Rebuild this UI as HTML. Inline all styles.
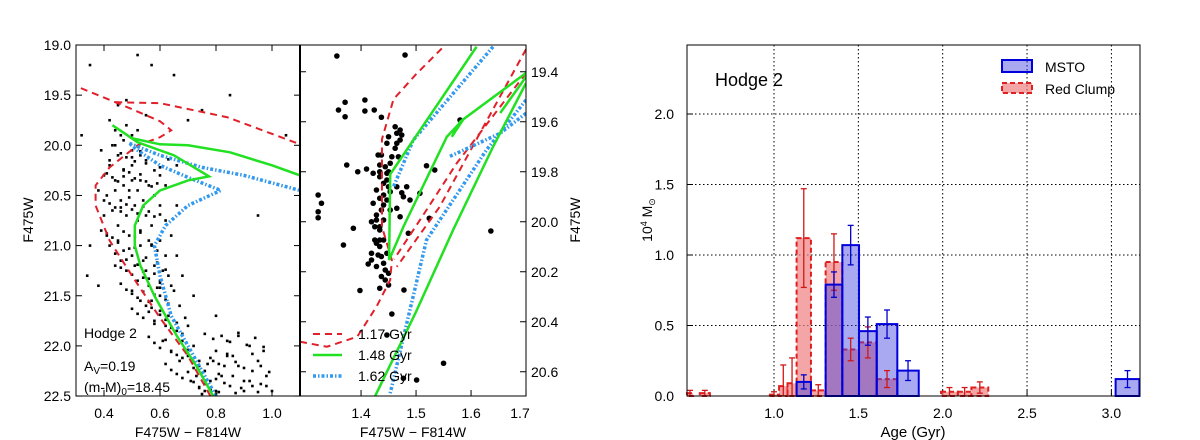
<!DOCTYPE html>
<html><head><meta charset="utf-8">
<style>
body{margin:0;background:#fff;}
svg{display:block;font-family:"Liberation Sans","DejaVu Sans",sans-serif;}
text{fill:#000;}
</style></head>
<body>
<svg id="fig" width="1200" height="440" viewBox="0 0 1200 440" xmlns="http://www.w3.org/2000/svg">
<rect width="1200" height="440" fill="#fff"/>
<g id="cmdL"></g>
<g id="cmdR"></g>
<g id="hist"></g>
</svg>
<script>
// ---------- CMD data ----------
const leftColor=[0.42,0.44,0.46,0.48,0.5,0.52,0.47,0.5,0.53,0.45,0.42,0.4,0.38,0.41,0.44,0.47,0.5,0.55,0.58,0.6,0.62,0.56,0.53,0.49,0.46,0.43,0.4,0.45,0.48,0.51,0.54,0.58,0.6,0.62,0.57,0.53,0.49,0.45,0.42,0.47,0.5,0.53,0.56,0.59,0.62,0.58,0.55,0.51,0.48,0.46,0.52,0.56,0.6,0.63,0.65,0.6,0.57,0.55,0.6,0.63,0.67,0.62,0.66,0.7,0.68,0.72,0.7,0.74,0.76,0.73,0.78,0.8,0.76,0.82,0.85,0.88,0.9,0.86,0.92,0.95,0.98,0.9,0.84,0.8,0.93,1.0,0.97,0.88,0.83,0.79,0.95,0.35,0.32,0.35,0.34,0.38,0.65,0.7,0.75,0.8,0.72,0.68,0.66,0.64,0.66,0.45,0.48,0.55,0.43,0.41,0.39,0.44,0.5,0.53,0.58,0.61,0.64,0.67,0.71,0.74,0.5,0.52,0.55,0.44,0.47,0.52,0.4,0.57,0.61,0.54,0.6,1.05,0.85,0.52,0.57,0.87,0.93,0.96,0.46,0.49,0.51,0.54,0.57,0.59,0.63,0.69,0.72,0.77,0.81,0.84,
0.41,0.43,0.45,0.47,0.49,0.51,0.53,0.55,0.57,0.59,0.42,0.44,0.46,0.48,0.5,0.52,0.54,0.56,0.58,0.6,0.41,0.43,0.45,0.47,0.49,0.51,0.53,0.55,0.57,0.59,0.44,0.46,0.48,0.5,0.52,0.54,0.56,0.58,0.6,0.62,0.46,0.48,0.5,0.52,0.54,0.56,0.58,0.6,0.62,0.64,0.5,0.52,0.54,0.56,0.58,0.6,0.62,0.64,0.66,0.68,0.56,0.58,0.6,0.62,0.64,0.66,0.68,0.7,0.72,0.74,0.62,0.64,0.66,0.68,0.7,0.72,0.74,0.76,0.78,0.8,0.76,0.79,0.82,0.85,0.88,0.91,0.94,0.97,0.78,0.81,0.84,0.87,0.9,0.93,0.96,0.99,0.8,0.83,0.86,0.89,0.92,0.95,0.98,0.75,0.78,0.81,0.46,0.48,0.51,0.53,0.55,0.6,0.63,0.66,0.39,0.42,0.44,0.47,0.5];
const leftMag=[19.75,19.85,19.9,19.8,19.9,19.85,19.95,20.05,20.1,20.1,20.2,20.3,20.45,20.5,20.35,20.25,20.2,20.15,20.25,20.3,20.4,20.4,20.35,20.45,20.55,20.65,20.7,20.8,20.7,20.6,20.55,20.5,20.6,20.75,20.8,20.85,20.9,20.95,21.0,21.05,21.1,21.0,20.95,21.05,21.1,21.2,21.25,21.2,21.25,21.15,21.35,21.4,21.35,21.3,21.45,21.5,21.55,21.6,21.65,21.7,21.6,21.8,21.85,21.8,21.95,22.0,22.1,22.15,22.25,22.3,22.35,22.45,22.45,22.3,22.4,22.2,22.35,22.1,22.0,22.15,22.3,22.45,21.95,22.05,22.4,22.45,22.05,21.9,22.2,22.15,20.7,19.2,19.9,21.0,21.3,21.4,19.3,19.75,19.65,21.7,21.5,21.3,21.1,20.9,20.6,19.6,19.55,19.7,20.0,20.9,20.85,21.2,21.45,21.55,21.75,21.95,22.05,22.15,22.35,22.42,20.35,20.45,20.7,20.45,20.4,20.75,20.55,21.0,21.25,21.15,20.95,19.9,19.5,19.1,19.2,22.47,22.25,22.38,20.62,20.52,21.02,21.32,21.62,21.42,21.58,21.72,22.22,22.18,22.28,22.08,
20.28,20.32,20.36,20.31,20.27,20.33,20.29,20.36,20.41,20.38,20.58,20.62,20.66,20.59,20.64,20.68,20.61,20.66,20.71,20.69,20.88,20.92,20.97,20.86,21.03,20.91,20.87,21.12,20.99,21.17,21.08,21.22,21.14,21.29,21.19,21.26,21.33,21.28,21.37,21.24,21.38,21.44,21.48,21.52,21.46,21.56,21.49,21.42,21.54,21.4,21.63,21.68,21.72,21.66,21.78,21.69,21.74,21.82,21.77,21.88,21.91,21.97,22.02,21.94,22.06,22.09,22.12,22.04,22.16,22.2,22.18,22.24,22.28,22.32,22.26,22.36,22.41,22.38,22.44,22.48,21.88,21.93,21.9,21.96,21.87,21.99,21.92,22.01,22.12,22.18,22.1,22.16,22.22,22.08,22.2,22.26,22.33,22.37,22.3,22.42,22.35,22.46,22.4,22.48,22.44,22.46,20.08,20.12,20.16,20.06,20.18,20.22,20.14,20.2,20.05,20.15,20.0,20.24,20.12];
const rightColor=[1.356,1.480,1.371,1.359,1.371,1.407,1.407,1.424,1.437,1.462,1.471,1.465,1.474,1.450,1.447,1.465,1.462,1.437,1.431,1.456,1.468,1.374,1.410,1.394,1.422,1.434,1.434,1.434,1.447,1.447,1.441,1.450,1.453,1.441,1.428,1.465,1.474,1.483,1.519,1.534,1.322,1.328,1.322,1.322,1.434,1.422,1.441,1.465,1.477,1.489,1.507,1.437,1.428,1.419,1.428,1.441,1.471,1.425,1.434,1.386,1.434,1.428,1.441,1.368,1.419,1.431,1.437,1.447,1.413,1.419,1.428,1.441,1.444,1.450,1.437,1.444,1.450,1.434,1.398,1.478,1.456,1.524,1.486,1.636,1.580,1.550,1.434,1.425,1.453,1.444,1.450,1.471,1.434,1.447,1.453,1.447,1.477,1.501];
const rightMag=[19.337,19.333,19.522,19.553,19.580,19.513,19.557,19.553,19.582,19.620,19.633,19.646,19.653,19.660,19.686,19.686,19.706,19.733,19.733,19.740,19.740,19.773,19.789,19.800,19.806,19.773,19.800,19.820,19.806,19.833,19.846,19.860,19.880,19.893,19.873,19.860,19.884,19.860,19.776,19.793,19.893,19.926,19.960,19.984,19.906,19.926,19.933,19.946,19.900,19.913,19.886,19.953,19.973,20.000,19.993,19.993,19.980,20.020,20.033,20.026,20.073,20.086,20.073,20.093,20.126,20.133,20.139,20.126,20.169,20.153,20.179,20.166,20.193,20.206,20.219,20.233,20.253,20.266,20.275,20.273,20.369,19.986,20.046,20.037,19.593,20.566,20.099,20.073,19.766,19.780,19.800,19.673,20.020,19.913,19.953,20.453,20.626,20.633];
// isochrones, left panel [color, mag]
const isoL117=[[[0.78,22.5],[0.7,22.1],[0.6,21.72],[0.5,21.3],[0.42,20.95],[0.37,20.6],[0.37,20.4],[0.42,20.22],[0.52,20.0],[0.6,19.92],[0.64,19.85],[0.6,19.76],[0.5,19.64],[0.44,19.57],[0.3,19.41]],[[0.44,19.57],[0.6,19.58],[0.84,19.72],[1.1,19.99]]];
const isoL148=[[[0.79,22.5],[0.73,22.2],[0.66,21.9],[0.58,21.5],[0.53,21.2],[0.51,21.0],[0.51,20.8],[0.54,20.6],[0.6,20.45],[0.7,20.35],[0.775,20.31],[0.65,20.1],[0.52,19.97],[0.43,19.8],[0.5,19.93],[0.6,19.99],[0.7,20.0],[0.85,20.07],[1.0,20.2],[1.1,20.3]]];
const isoL162=[[[0.8,22.5],[0.72,22.1],[0.64,21.7],[0.6,21.3],[0.58,21.0],[0.62,20.8],[0.7,20.6],[0.817,20.45],[0.7,20.32],[0.6,20.2],[0.52,20.05],[0.49,19.98],[0.6,20.1],[0.75,20.22],[0.9,20.3],[1.1,20.45]]];
// isochrones, right panel
const isoR117=[[[1.289,20.48],[1.338,20.50],[1.393,20.46],[1.428,20.34],[1.453,20.233],[1.456,20.153],[1.438,20.02],[1.438,19.67],[1.459,19.51],[1.50,19.41],[1.55,19.30]],[[1.70,19.31],[1.616,19.646],[1.543,19.94],[1.465,20.18]],[[1.70,19.405],[1.574,19.766],[1.519,19.953],[1.46,20.15]]];
const isoR148=[[[1.425,20.70],[1.50,20.36],[1.568,20.03],[1.64,19.70],[1.70,19.445]],[[1.61,19.30],[1.453,19.81],[1.451,20.153],[1.477,20.02],[1.556,19.66],[1.586,19.59],[1.565,19.66],[1.58,19.6],[1.70,19.405]],[[1.70,19.42],[1.653,19.565]]];
const isoR162=[[[1.64,19.30],[1.495,19.673],[1.459,19.86]],[[1.70,19.513],[1.628,19.713],[1.519,20.073],[1.453,20.686]],[[1.70,19.566],[1.653,19.646],[1.56,19.74]]];
const lTicksX=[0.4,0.6,0.8,1.0], lTicksY=[19.0,19.5,20.0,20.5,21.0,21.5,22.0,22.5];
const rTicksX=[1.4,1.5,1.6,1.7], rTicksY=[19.4,19.6,19.8,20.0,20.2,20.4,20.6];
// ---------- histogram data ----------
const binLo=[1.134,1.306,1.405,1.504,1.609,1.731,3.025];
const binHi=[1.219,1.405,1.504,1.609,1.731,1.858,3.166];
const mstoVal=[0.10,0.79,1.07,0.46,0.51,0.18,0.12];
const mstoErr=[0.05,0.09,0.14,0.10,0.10,0.07,0.06];
const rcLo=[0.484,0.56,0.97,1.03,1.08,1.134,1.219,1.306,1.405,1.504,1.609,1.99,2.09,2.17];
const rcHi=[0.52,0.62,1.03,1.08,1.134,1.219,1.306,1.405,1.504,1.609,1.731,2.09,2.17,2.27];
const rcVal=[0.02,0.02,0.01,0.07,0.09,1.12,0.04,0.95,0.33,0.38,0.12,0.03,0.03,0.06];
const rcErr=[0.02,0.02,0.02,0.15,0.18,0.35,0.04,0.2,0.08,0.11,0.06,0.03,0.03,0.04];
const hTicksX=[1.0,1.5,2.0,2.5,3.0], hTicksY=[0.0,0.5,1.0,1.5,2.0];

const NS="http://www.w3.org/2000/svg";
function mk(p,tag,at){const e=document.createElementNS(NS,tag);for(const k in at)e.setAttribute(k,at[k]);p.appendChild(e);return e;}
function txt(p,x,y,s,anchor,size){const t=mk(p,'text',{x:x,y:y,'font-size':size||14,'text-anchor':anchor||'start'});t.textContent=s;return t;}

const L=document.getElementById('cmdL');
const lx=c=>76+(c-0.3)*280, ly=m=>45+(m-19)*100.3;
const R=document.getElementById('cmdR');
const rx=c=>300+(c-1.289)*550, ry=m=>45+(m-19.293)*250;
function clip(id,x,w){const d=mk(document.getElementById('fig'),'clipPath',{id:id});mk(d,'rect',{x:x,y:45,width:w,height:351});}
clip('cl',76,224);clip('cr',300,226);
const Lg=mk(L,'g',{'clip-path':'url(#cl)'});
const Rg=mk(R,'g',{'clip-path':'url(#cr)'});
leftColor.forEach((c,i)=>{const e=mk(Lg,'rect',{x:lx(c)-1.3,y:ly(leftMag[i])-1.3,width:2.6,height:2.6,fill:'#000'});

});
rightColor.forEach((c,i)=>{const e=mk(Rg,'circle',{cx:rx(c),cy:ry(rightMag[i]),r:2.8,fill:'#000'});

});
const sty={red:{stroke:'#e0202a','stroke-width':2,'stroke-dasharray':'7,5',fill:'none'},green:{stroke:'#22e022','stroke-width':2.5,fill:'none'},blue:{stroke:'#3399ee','stroke-width':3.5,'stroke-dasharray':'3,2,1.5,2',fill:'none'}};
function drawIso(g,segs,fx,fy,st,name){segs.forEach(s=>{const a=Object.assign({points:s.map(p=>fx(p[0])+','+fy(p[1])).join(' ')},sty[st]);const e=mk(g,'polyline',a);

});}
drawIso(Lg,isoL117,lx,ly,'red','isochrone-1-17');drawIso(Lg,isoL162,lx,ly,'blue','isochrone-1-62');drawIso(Lg,isoL148,lx,ly,'green','isochrone-1-48');
drawIso(Rg,isoR117,rx,ry,'red','isochrone-1-17');drawIso(Rg,isoR162,rx,ry,'blue','isochrone-1-62');drawIso(Rg,isoR148,rx,ry,'green','isochrone-1-48');
mk(L,'rect',{x:76,y:45,width:224,height:351,fill:'none',stroke:'#000','stroke-width':1});
mk(R,'rect',{x:300,y:45,width:226,height:351,fill:'none',stroke:'#000','stroke-width':1});
mk(R,'line',{x1:300,y1:45,x2:300,y2:396,stroke:'#000','stroke-width':2});
lTicksX.forEach(v=>{const x=lx(v);mk(L,'line',{x1:x,y1:396,x2:x,y2:390,stroke:'#000'});mk(L,'line',{x1:x,y1:45,x2:x,y2:51,stroke:'#000'});txt(L,x,418,v.toFixed(1),'middle');});
lTicksY.forEach(v=>{const y=ly(v);mk(L,'line',{x1:76,y1:y,x2:82,y2:y,stroke:'#000'});mk(L,'line',{x1:300,y1:y,x2:294,y2:y,stroke:'#000'});txt(L,71,y+5,v.toFixed(1),'end');});
rTicksX.forEach(v=>{const x=rx(v);mk(R,'line',{x1:x,y1:396,x2:x,y2:390,stroke:'#000'});mk(R,'line',{x1:x,y1:45,x2:x,y2:51,stroke:'#000'});txt(R,v===1.7?520:x,418,v.toFixed(1),'middle');});
rTicksY.forEach(v=>{const y=ry(v);mk(R,'line',{x1:526,y1:y,x2:520,y2:y,stroke:'#000'});mk(R,'line',{x1:300,y1:y,x2:306,y2:y,stroke:'#000'});txt(R,531,y+5,v.toFixed(1),'start');});
txt(L,188,437,'F475W − F814W','middle',14);
txt(R,413,437,'F475W − F814W','middle',14);
const yl=txt(L,0,0,'F475W','middle',14);yl.setAttribute('transform','translate(33,220) rotate(-90)');
const yr=txt(R,0,0,'F475W','middle',14);yr.setAttribute('transform','translate(580,220) rotate(-90)');
txt(L,84,338,'Hodge 2','start',14);
const av=mk(L,'text',{x:84,y:371,'font-size':14});av.innerHTML='A<tspan font-size="10" dy="3">V</tspan><tspan dy="-3">=0.19</tspan>';

const dm=mk(L,'text',{x:84,y:392,'font-size':14});dm.innerHTML='(m-M)<tspan font-size="10" dy="3">0</tspan><tspan dy="-3">=18.45</tspan>';

[['red','1.17 Gyr',334],['green','1.48 Gyr',355],['blue','1.62 Gyr',376]].forEach(d=>{const g=mk(R,'g',{});


mk(g,'line',Object.assign({x1:313,y1:d[2],x2:342,y2:d[2]},sty[d[0]]));txt(g,358,d[2]+5,d[1],'start',14);});

const H=document.getElementById('hist');
const hx=v=>774+(v-1.0)*168.7, hy=v=>396-v*141;
const HX0=687,HX1=1140,HY0=45,HY1=396;
hTicksX.forEach(v=>{const x=hx(v);mk(H,'line',{x1:x,y1:HY0,x2:x,y2:HY1,stroke:'#000','stroke-dasharray':'1.5,2.5','stroke-width':1});txt(H,x,418,v.toFixed(1),'middle',14);mk(H,'line',{x1:x,y1:396,x2:x,y2:390,stroke:'#000'});});
hTicksY.forEach(v=>{const y=hy(v);if(v>0)mk(H,'line',{x1:HX0,y1:y,x2:HX1,y2:y,stroke:'#000','stroke-dasharray':'1.5,2.5','stroke-width':1});txt(H,674,y+5,v.toFixed(1),'end',14);mk(H,'line',{x1:HX0,y1:y,x2:HX0+6,y2:y,stroke:'#000'});});
const Hg=mk(H,'g',{});
rcVal.forEach((v,i)=>{const e=mk(Hg,'rect',{x:hx(rcLo[i]),y:hy(v),width:hx(rcHi[i])-hx(rcLo[i]),height:hy(0)-hy(v),fill:'#f08080','fill-opacity':0.7,stroke:'#e02020','stroke-width':2,'stroke-dasharray':'5,3'});

});
mstoVal.forEach((v,i)=>{const e=mk(Hg,'rect',{x:hx(binLo[i]),y:hy(v),width:hx(binHi[i])-hx(binLo[i]),height:hy(0)-hy(v),fill:'#4040e0','fill-opacity':0.45,stroke:'#0000dd','stroke-width':2});

});
function err(c,v,e,col){const x=hx(c);mk(Hg,'line',{x1:x,y1:hy(Math.max(0,v-e)),x2:x,y2:hy(v+e),stroke:col,'stroke-width':1.3});[Math.max(0,v-e),v+e].forEach(y=>mk(Hg,'line',{x1:x-3,y1:hy(y),x2:x+3,y2:hy(y),stroke:col,'stroke-width':1.3}));}
rcVal.forEach((v,i)=>err((rcLo[i]+rcHi[i])/2,v,rcErr[i],'#d01818'));
mstoVal.forEach((v,i)=>err((binLo[i]+binHi[i])/2,v,mstoErr[i],'#0000cc'));
mk(H,'rect',{x:HX0,y:HY0,width:HX1-HX0,height:HY1-HY0,fill:'none',stroke:'#000','stroke-width':1});
txt(H,715,86,'Hodge 2','start',18);
const lg1=mk(H,'g',{});


mk(lg1,'rect',{x:1002,y:60,width:30,height:12,fill:'#4040e0','fill-opacity':0.45,stroke:'#0000dd','stroke-width':2});
txt(lg1,1045,72,'MSTO','start',14);
const lg2=mk(H,'g',{});


mk(lg2,'rect',{x:1002,y:83,width:30,height:10,fill:'#f08080','fill-opacity':0.7,stroke:'#e02020','stroke-width':2,'stroke-dasharray':'5,3'});
txt(lg2,1045,94,'Red Clump','start',14);
txt(H,913,437,'Age (Gyr)','middle',15);
const hyl=mk(H,'text',{'font-size':14,'text-anchor':'middle',transform:'translate(652,220) rotate(-90)'});
hyl.innerHTML='10<tspan font-size="9" dy="-5">4</tspan><tspan dy="5"> M</tspan><tspan font-size="9" dy="3">⊙</tspan>';

</script>
</body></html>
